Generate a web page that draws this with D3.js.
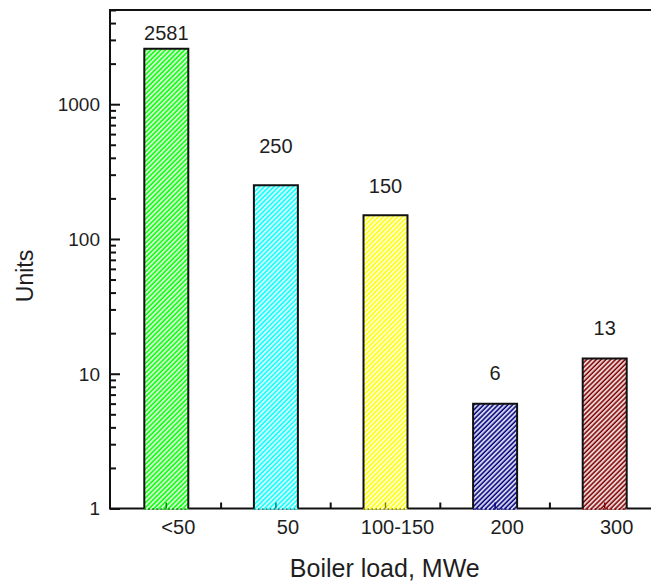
<!DOCTYPE html>
<html>
<head>
<meta charset="utf-8">
<script src="https://cdn.jsdelivr.net/npm/d3@7/dist/d3.min.js"></script>
<style>
  html, body { margin: 0; padding: 0; background: #fff; }
  svg { display: block; }
  text { font-family: "Liberation Sans", Arial, sans-serif; fill: #1e1e1e; }
</style>
</head>
<body>
<script>
// Boiler units by load class
const categories = ["<50", "50", "100-150", "200", "300"];
const units = [2581, 250, 150, 6, 13];
const yTickValues = [1, 10, 100, 1000];
const barColors = ["#00ff00", "#00ffff", "#ffff00", "#000080", "#800000"];
const tickColors = ["#008000", "#008080", "#808000", "#000080", "#800000"];
// vertical gap (px) between each bar top and its value label
const labelGap = [9, 32, 22, 24, 23];

const W = 651, H = 583;
const plotLeft = 110, plotTop = 10, plotBottom = 508.5, plotRight = 659.5;

const svg = d3.select("body").append("svg")
  .attr("width", W).attr("height", H);

const x = d3.scalePoint().domain(categories).range([plotLeft + 1.5, plotRight]).padding(0.5);
const step = x.step();
const barW = 44;
const y = d3.scaleLog().domain([1, 5000]).range([plotBottom, plotTop]);

// fine diagonal hatch patterns: colour ground with light stripes
const defs = svg.append("defs");
barColors.forEach((c, i) => {
  const p = defs.append("pattern")
    .attr("id", "hatch" + i)
    .attr("patternUnits", "userSpaceOnUse")
    .attr("width", 3.4).attr("height", 3.4)
    .attr("patternTransform", "rotate(45)");
  p.append("rect").attr("width", 3.4).attr("height", 3.4).attr("fill", c);
  p.append("line").attr("x1", 1).attr("x2", 1).attr("y1", 0).attr("y2", 3.4)
    .attr("stroke", "#fff").attr("stroke-width", 1.9).attr("stroke-opacity", 0.85);
});

// frame (right side falls outside the visible area)
svg.append("rect")
  .attr("x", plotLeft).attr("y", plotTop)
  .attr("width", plotRight - plotLeft).attr("height", plotBottom - plotTop)
  .attr("fill", "none").attr("stroke", "#111").attr("stroke-width", 2);

// y axis: major and minor ticks pointing inward
const minorY = [];
for (let d = 1; d <= 1000; d *= 10) {
  for (let k = 2; k <= 9; k++) { if (d * k <= 5000) minorY.push(d * k); }
}
const yAxisMajor = d3.axisRight(y).tickValues(yTickValues).tickSize(10).tickFormat("");
const yAxisMinor = d3.axisRight(y).tickValues(minorY).tickSize(6).tickFormat("");
[yAxisMajor, yAxisMinor].forEach(ax => {
  const g = svg.append("g").attr("transform", `translate(${plotLeft},0)`).call(ax);
  g.select(".domain").remove();
  g.selectAll("line").attr("stroke", "#111").attr("stroke-width", 2);
});
svg.append("g").selectAll("text").data(yTickValues).join("text")
  .attr("x", plotLeft - 10).attr("y", d => y(d))
  .attr("dy", "0.36em").attr("text-anchor", "end")
  .attr("font-size", 19).text(d => d);

// x axis ticks between categories
const between = categories.slice(1).map(c => x(c) - step / 2);
svg.append("g").selectAll("line").data(between).join("line")
  .attr("x1", d => d).attr("x2", d => d)
  .attr("y1", plotBottom).attr("y2", plotBottom - 6)
  .attr("stroke", "#111").attr("stroke-width", 2);

// bars
const bars = svg.append("g").selectAll("g").data(units).join("g");
bars.append("rect")
  .attr("x", (d, i) => x(categories[i]) - barW / 2)
  .attr("y", d => y(d))
  .attr("width", barW)
  .attr("height", d => plotBottom + 1 - y(d))
  .attr("fill", (d, i) => `url(#hatch${i})`);
bars.append("path")
  .attr("d", (d, i) => {
    const x0 = x(categories[i]) - barW / 2, x1 = x0 + barW, yt = y(d);
    return `M${x0},${plotBottom}V${yt}H${x1}V${plotBottom}`;
  })
  .attr("fill", "none").attr("stroke", "#111").attr("stroke-width", 2);
// category tick inside each bar
bars.append("line")
  .attr("x1", (d, i) => x(categories[i])).attr("x2", (d, i) => x(categories[i]))
  .attr("y1", plotBottom).attr("y2", plotBottom - 6)
  .attr("stroke", (d, i) => tickColors[i]).attr("stroke-width", 1.5);
// dotted bottom edge in bar colour
bars.append("line")
  .attr("x1", (d, i) => x(categories[i]) - barW / 2)
  .attr("x2", (d, i) => x(categories[i]) + barW / 2)
  .attr("y1", plotBottom + 0.5).attr("y2", plotBottom + 0.5)
  .attr("stroke", (d, i) => tickColors[i]).attr("stroke-width", 1.5)
  .attr("stroke-dasharray", "1.5,2.5");

// value labels
bars.append("text")
  .attr("x", (d, i) => x(categories[i]))
  .attr("y", (d, i) => y(d) - labelGap[i])
  .attr("text-anchor", "middle").attr("font-size", 20)
  .text(d => d);

// category labels
svg.append("g").selectAll("text").data(categories).join("text")
  .attr("x", d => x(d) + 12).attr("y", 534)
  .attr("text-anchor", "middle").attr("font-size", 20)
  .text(d => d);

// axis titles
svg.append("text")
  .attr("x", (plotLeft + plotRight) / 2).attr("y", 577)
  .attr("text-anchor", "middle").attr("font-size", 25)
  .text("Boiler load, MWe");
svg.append("text")
  .attr("transform", "translate(33,276) rotate(-90)")
  .attr("text-anchor", "middle").attr("font-size", 23)
  .text("Units");
</script>
</body>
</html>
